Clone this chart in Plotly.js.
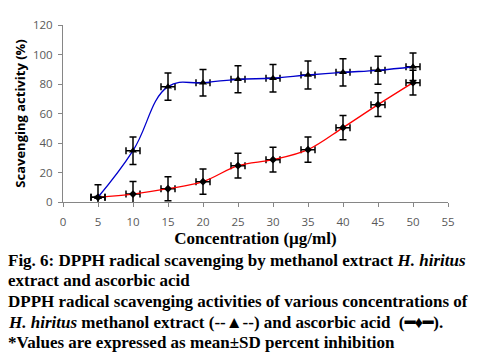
<!DOCTYPE html>
<html>
<head>
<meta charset="utf-8">
<script src="https://cdn.plot.ly/plotly-3.0.1.min.js"></script>
<style>
html,body{margin:0;padding:0;background:#fff;}
#chart{width:495px;height:364px;}
</style>
</head>
<body>
<div id="chart"></div>
<script>
// Data
const concentrations = [5, 10, 15, 20, 25, 30, 35, 40, 45, 50];
const extractValues = [3.2, 34.8, 78.2, 80.9, 83.2, 83.9, 86.1, 87.9, 89.3, 91.7];
const extractSD = [8.5, 9.3, 9.3, 9.0, 9.2, 9.4, 9.5, 9.2, 9.5, 9.4];
const ascorbicValues = [3.2, 5.4, 9.0, 13.8, 24.6, 28.7, 35.5, 50.4, 66.0, 80.9];
const ascorbicSD = [0.5, 8.5, 8.1, 8.5, 8.4, 8.4, 8.5, 8.2, 8.1, 8.4];
const concentrationSD = [1, 1, 1, 1, 1, 1, 1, 1, 1, 1];
const xTicks = [0, 5, 10, 15, 20, 25, 30, 35, 40, 45, 50, 55];
const yTicks = [0, 20, 40, 60, 80, 100, 120];

const captionLines = [
  "Fig. 6: DPPH radical scavenging by methanol extract <i>H. hiritus</i>",
  "extract and ascorbic acid",
  "DPPH radical scavenging activities of various concentrations of",
  "<i>H. hiritus</i> methanol extract (--▲--) and ascorbic acid  (<b>━♦━</b>).",
  "*Values are expressed as mean±SD percent inhibition"
];
const captionY = [-0.333, -0.445, -0.563, -0.682, -0.795];

const errX = {type: 'data', array: concentrationSD, visible: true, color: '#000', thickness: 1.5, width: 3.5};

const traces = [
  {
    x: concentrations, y: ascorbicValues, type: 'scatter', mode: 'lines+markers',
    line: {color: '#ff0000', width: 1.3, shape: 'spline', smoothing: 1},
    marker: {symbol: 'diamond', size: 6, color: '#000'},
    error_y: {type: 'data', array: ascorbicSD, visible: true, color: '#000', thickness: 1.5, width: 3.5},
    error_x: errX,
    showlegend: false
  },
  {
    x: concentrations, y: extractValues, type: 'scatter', mode: 'lines+markers',
    line: {color: '#0000cc', width: 1.3, shape: 'spline', smoothing: 1.2},
    marker: {symbol: 'triangle-up', size: 7, color: '#000'},
    error_y: {type: 'data', array: extractSD, visible: true, color: '#000', thickness: 1.5, width: 3.5},
    error_x: errX,
    showlegend: false
  }
];

const annotations = captionLines.map((t, i) => ({
  text: t, xref: 'paper', yref: 'paper', x: -0.148, y: captionY[i],
  xanchor: 'left', yanchor: 'middle', align: 'left', showarrow: false,
  font: {family: 'Liberation Serif, Times New Roman, serif', size: 17, color: '#000', weight: 'bold'}
}));

const layout = {
  width: 495, height: 364,
  margin: {l: 63, r: 47, t: 25, b: 162},
  paper_bgcolor: '#fff', plot_bgcolor: '#fff',
  xaxis: {
    range: [0, 55], tickvals: xTicks, ticktext: xTicks.map(String),
    showgrid: false, zeroline: false, showline: true, linecolor: '#868686', linewidth: 1,
    ticks: 'outside', ticklen: 4, tickcolor: '#868686', ticklabelstandoff: 5,
    tickfont: {family: 'Open Sans, Liberation Sans, sans-serif', size: 11.5, color: '#595959'},
    title: {text: 'Concentration (µg/ml)', standoff: 0,
      font: {family: 'Liberation Serif, Times New Roman, serif', size: 17, color: '#000', weight: 'bold'}}
  },
  yaxis: {
    range: [0, 120], tickvals: yTicks, ticktext: yTicks.map(String),
    showgrid: false, zeroline: false, showline: true, linecolor: '#868686', linewidth: 1,
    ticks: 'outside', ticklen: 4, tickcolor: '#868686', ticklabelstandoff: 3,
    tickfont: {family: 'Open Sans, Liberation Sans, sans-serif', size: 11.5, color: '#595959'},
    title: {text: 'Scavenging activity (%)', standoff: 4,
      font: {family: 'Open Sans, Liberation Sans, sans-serif', size: 13, color: '#000', weight: 'bold'}}
  },
  annotations: annotations
};

Plotly.newPlot('chart', traces, layout, {displayModeBar: false, staticPlot: true});
</script>
</body>
</html>
